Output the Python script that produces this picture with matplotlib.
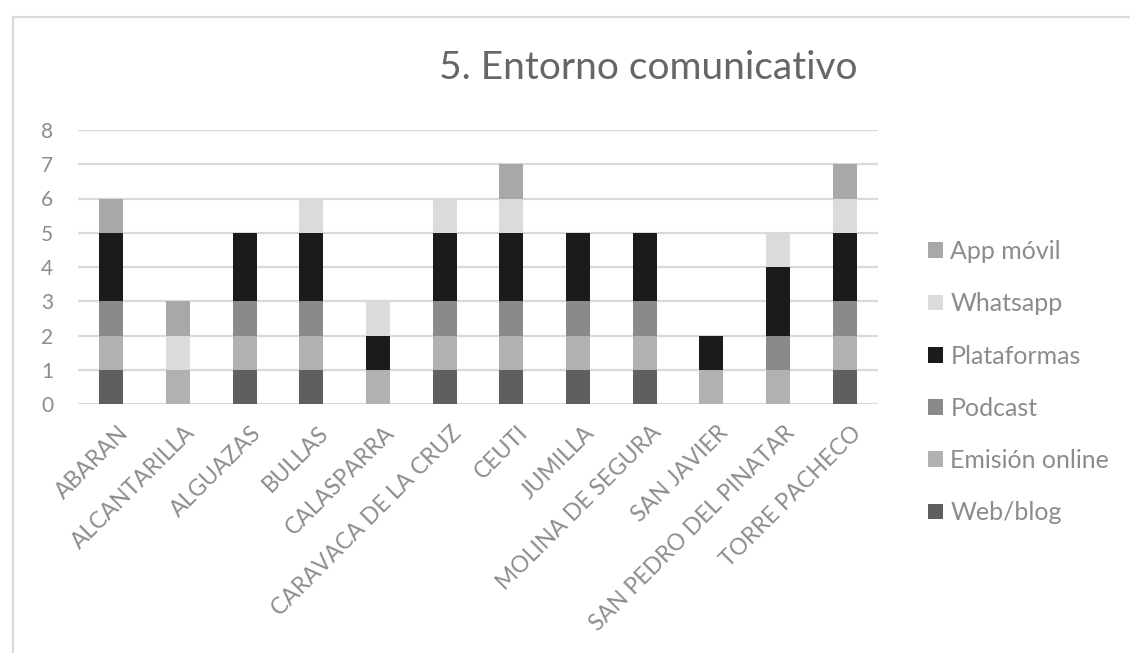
import matplotlib
matplotlib.use("Agg")
import matplotlib.pyplot as plt
import matplotlib.transforms as mtransforms
import numpy as np
from matplotlib.lines import Line2D
from matplotlib.patches import Patch

plt.rcParams['font.family'] = ['Lato', 'DejaVu Sans']

municipios = ["ABARAN", "ALCANTARILLA", "ALGUAZAS", "BULLAS", "CALASPARRA",
              "CARAVACA DE LA CRUZ", "CEUTI", "JUMILLA", "MOLINA DE SEGURA",
              "SAN JAVIER", "SAN PEDRO DEL PINATAR", "TORRE PACHECO"]

web_blog = [1, 0, 1, 1, 0, 1, 1, 1, 1, 0, 0, 1]
emision_online = [1, 1, 1, 1, 1, 1, 1, 1, 1, 1, 1, 1]
podcast = [1, 0, 1, 1, 0, 1, 1, 1, 1, 0, 1, 1]
plataformas = [2, 0, 2, 2, 1, 2, 2, 2, 2, 1, 2, 2]
whatsapp = [0, 1, 0, 1, 1, 1, 1, 0, 0, 0, 1, 1]
app_movil = [1, 1, 0, 0, 0, 0, 1, 0, 0, 0, 0, 1]

series = [
    ("Web/blog", web_blog, "#5f5f5f"),
    ("Emisión online", emision_online, "#b1b1b1"),
    ("Podcast", podcast, "#8a8a8a"),
    ("Plataformas", plataformas, "#1b1b1b"),
    ("Whatsapp", whatsapp, "#dbdbdb"),
    ("App móvil", app_movil, "#a8a8a8"),
]

W, H = 1130, 653
fig = plt.figure(figsize=(W / 100, H / 100), dpi=100)
fig.patch.set_facecolor("white")

# frame around the chart area
fig.add_artist(Line2D([12.5 / W, 12.5 / W], [0, 1 - 17 / H], color="#d9d9d9", lw=1.6,
                      transform=fig.transFigure))
fig.add_artist(Line2D([12.5 / W, 1], [1 - 17 / H, 1 - 17 / H], color="#d9d9d9", lw=1.6,
                      transform=fig.transFigure))

ax = fig.add_axes([78 / W, 1 - 404 / H, 800 / W, 274 / H])
x = np.arange(len(municipios))
bottom = np.zeros(len(municipios))
handles = []
for name, vals, col in series:
    vals = np.array(vals, dtype=float)
    ax.bar(x, vals, bottom=bottom, width=0.36, color=col, zorder=3)
    bottom += vals
    handles.append(Patch(facecolor=col, label=name))

ax.set_xlim(-0.5, len(municipios) - 0.5)
ax.set_ylim(0, 8)
ax.set_yticks(range(0, 9))
ax.yaxis.grid(True, color="#d9d9d9", lw=1.6, zorder=0)
ax.set_axisbelow(True)
for s in ax.spines.values():
    s.set_visible(False)
ax.tick_params(axis="both", length=0, colors="#8c8c8c")
ax.tick_params(axis="y", pad=18, labelsize=15)
ax.set_xticks(x)
ax.set_xticklabels(municipios, rotation=45, ha="right", va="top",
                   rotation_mode="anchor", fontsize=16.5)
ax.tick_params(axis="x", pad=13)
shift = mtransforms.ScaledTranslation(6 / 100, 0, fig.dpi_scale_trans)
for lbl in ax.get_xticklabels():
    lbl.set_transform(lbl.get_transform() + shift)

fig.text(648 / W, 1 - 68 / H, "5. Entorno comunicativo", ha="center", va="center",
         fontsize=28, color="#666666")

leg = fig.legend(handles=handles[::-1], loc="upper left",
                 bbox_to_anchor=(928 / W, 1 - 240 / H), frameon=False,
                 borderaxespad=0, borderpad=0,
                 handlelength=0.6, handleheight=0.6, handletextpad=0.3,
                 labelspacing=1.17, fontsize=18, labelcolor="#8c8c8c")

fig.savefig("out.png", dpi=100, facecolor="white")
